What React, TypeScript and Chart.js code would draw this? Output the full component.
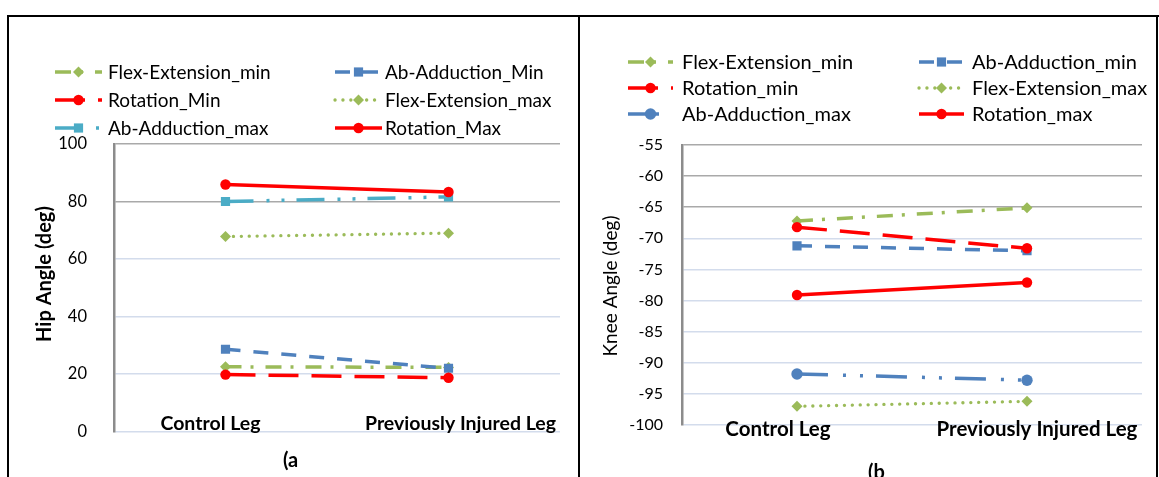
import React, { useEffect, useRef } from 'react';
import { Chart, registerables } from 'chart.js';
Chart.register(...registerables);

// ---------- data ----------
const categories = ['Control Leg', 'Previously Injured Leg'];

const hipSeriesNames = ['Flex-Extension_min', 'Ab-Adduction_Min', 'Rotation_Min', 'Flex-Extension_max', 'Ab-Adduction_max', 'Rotation_Max'];
const hipFlexMin = [22.5, 22.3];
const hipAbMin = [28.6, 22.0];
const hipRotMin = [19.8, 18.7];
const hipFlexMax = [67.8, 69.0];
const hipAbMax = [80.0, 81.6];
const hipRotMax = [85.9, 83.3];
const hipAxis = { min: 0, max: 100, step: 20 };

const kneeSeriesNames = ['Flex-Extension_min', 'Ab-Adduction_min', 'Rotation_min', 'Flex-Extension_max', 'Ab-Adduction_max', 'Rotation_max'];
const kneeFlexMin = [-67.2, -65.1];
const kneeAbMin = [-71.2, -72.0];
const kneeRotMin = [-68.2, -71.6];
const kneeFlexMax = [-97.0, -96.2];
const kneeAbMax = [-91.8, -92.8];
const kneeRotMax = [-79.1, -77.1];
const kneeAxis = { min: -100, max: -55, step: 5 };

// ---------- styles ----------
const GREEN = '#9BBB59';
const BLUE = '#4F81BD';
const RED = '#FF0000';
const TEAL = '#4BACC6';
const FONT = 'Lato, "Noto Sans", sans-serif';

type SeriesStyle = { color: string; dash: number[]; cap?: string; marker: string; r: number; width: number };

function seriesStyles(abMaxColor: string, abMaxMarker: string, abMaxDash: number[]): SeriesStyle[] {
  return [
    { color: GREEN, dash: [16, 9, 3, 12], marker: 'rectRot', r: 5.5, width: 3.5 },
    { color: BLUE, dash: [15, 13], marker: 'rect', r: 6.5, width: 3.5 },
    { color: RED, dash: [30, 13], marker: 'circle', r: 5.2, width: 3.5 },
    { color: GREEN, dash: [0.1, 7.8], cap: 'round', marker: 'rectRot', r: 5.5, width: 3.3 },
    { color: abMaxColor, dash: abMaxDash, marker: abMaxMarker, r: abMaxMarker === 'rect' ? 6.5 : 5.7, width: 3.5 },
    { color: RED, dash: [], marker: 'circle', r: 5.2, width: 3.5 },
  ];
}

function drawMarker(ctx: CanvasRenderingContext2D, style: string, x: number, y: number, r: number, color: string) {
  ctx.save();
  ctx.setLineDash([]);
  ctx.fillStyle = color;
  ctx.beginPath();
  if (style === 'circle') ctx.arc(x, y, r, 0, Math.PI * 2);
  else if (style === 'rect') {
    const s = r * Math.SQRT1_2;
    ctx.rect(x - s, y - s, 2 * s, 2 * s);
  } else {
    ctx.moveTo(x - r, y);
    ctx.lineTo(x, y - r);
    ctx.lineTo(x + r, y);
    ctx.lineTo(x, y + r);
    ctx.closePath();
  }
  ctx.fill();
  ctx.restore();
}

const overlayPlugin = {
  id: 'overlay',
  afterDraw(chart: any, _args: any, o: any) {
    const ctx: CanvasRenderingContext2D = chart.ctx;
    const xs = chart.scales.x;
    ctx.save();
    // legend
    ctx.font = `${o.legendSize}px ${FONT}`;
    ctx.textBaseline = 'middle';
    ctx.textAlign = 'left';
    chart.data.datasets.forEach((ds: any, i: number) => {
      const col = i % 2;
      const row = Math.floor(i / 2);
      const x0 = o.legendX[col];
      const y = o.legendY + row * o.legendDy;
      const w = o.sampleW;
      ctx.save();
      ctx.strokeStyle = ds.borderColor;
      ctx.lineWidth = ds.borderWidth;
      ctx.lineCap = ds.borderCapStyle || 'butt';
      ctx.setLineDash(ds.borderDash || []);
      ctx.beginPath();
      ctx.moveTo(x0, y);
      ctx.lineTo(x0 + w, y);
      ctx.stroke();
      ctx.restore();
      drawMarker(ctx, ds.pointStyle, x0 + w / 2, y, ds.pointRadius, ds.borderColor);
      ctx.fillStyle = '#000';
      ctx.fillText(ds.label, o.legendTextX[col], y + 1);
    });
    // category labels
    ctx.font = `bold ${o.catSize}px ${FONT}`;
    ctx.textAlign = 'center';
    chart.data.labels.forEach((lab: string, i: number) => {
      ctx.fillText(lab, xs.getPixelForValue(i) + o.catShift[i], o.catY);
    });
    // y title
    ctx.save();
    ctx.translate(o.titleX, o.titleY);
    ctx.rotate(-Math.PI / 2);
    ctx.font = `${o.titleBold ? 'bold ' : ''}${o.titleSize}px ${FONT}`;
    ctx.textAlign = 'center';
    ctx.fillText(o.title, 0, 0);
    ctx.restore();
    // panel caption
    ctx.font = `bold ${o.capSize}px ${FONT}`;
    ctx.textAlign = 'left';
    ctx.textBaseline = 'top';
    ctx.fillText(o.caption, o.capX, o.capY);
    ctx.restore();
  },
};

type PanelProps = {
  width: number;
  height: number;
  names: string[];
  values: number[][];
  styles: SeriesStyle[];
  axis: { min: number; max: number; step: number };
  grayFrom: number;
  padding: { top: number; right: number; bottom: number };
  axisW: number;
  tickPad: number;
  tickSize: number;
  overlay: any;
};

function Panel(p: PanelProps) {
  const ref = useRef<HTMLCanvasElement>(null);
  useEffect(() => {
    if (!ref.current) return;
    const n = p.values.length;
    const datasets = p.values.map((v, i) => {
      const s = p.styles[i];
      return {
        label: p.names[i],
        data: v,
        borderColor: s.color,
        backgroundColor: s.color,
        borderWidth: s.width,
        borderDash: s.dash,
        borderCapStyle: s.cap || 'butt',
        pointStyle: s.marker,
        pointRadius: s.r,
        pointBackgroundColor: s.color,
        pointBorderColor: s.color,
        pointBorderWidth: 0,
        tension: 0,
        order: n - i,
      };
    });
    const chart = new Chart(ref.current, {
      type: 'line',
      data: { labels: categories, datasets },
      options: {
        responsive: false,
        animation: false,
        layout: { padding: { left: 0, top: p.padding.top, right: p.padding.right, bottom: p.padding.bottom } },
        plugins: {
          legend: { display: false },
          tooltip: { enabled: false },
          overlay: p.overlay,
        } as any,
        scales: {
          x: { display: false, offset: true },
          y: {
            min: p.axis.min,
            max: p.axis.max,
            ticks: { stepSize: p.axis.step, padding: p.tickPad, color: '#000', font: { family: FONT, size: p.tickSize } },
            grid: {
              drawTicks: false,
              lineWidth: 1.5,
              color: (c: any) => (c.tick && c.tick.value >= p.grayFrom ? '#A9A9A9' : '#D3DCEC'),
            },
            border: { display: true, color: '#8C8C8C', width: 2.5 },
            afterFit: (s: any) => {
              s.width = p.axisW;
            },
          },
        },
      },
      plugins: [overlayPlugin],
    } as any);
    return () => chart.destroy();
  }, []);
  return <canvas ref={ref} width={p.width} height={p.height} style={{ display: 'block', width: p.width, height: p.height }} />;
}

const line = (l: number, t: number, w: number, h: number) => (
  <div style={{ position: 'absolute', left: l, top: t, width: w, height: h, background: '#000' }} />
);

export default function App() {
  const hipValues = [hipFlexMin, hipAbMin, hipRotMin, hipFlexMax, hipAbMax, hipRotMax];
  const kneeValues = [kneeFlexMin, kneeAbMin, kneeRotMin, kneeFlexMax, kneeAbMax, kneeRotMax];
  return (
    <div style={{ position: 'absolute', left: 0, top: 0, width: 1159, height: 477, overflow: 'hidden', background: '#fff' }}>
      <div style={{ position: 'absolute', left: 9, top: 17 }}>
        <Panel
          width={569}
          height={460}
          names={hipSeriesNames}
          values={hipValues}
          styles={seriesStyles(TEAL, 'rect', [28, 13, 3, 12, 3, 12])}
          axis={hipAxis}
          grayFrom={80}
          padding={{ top: 127, right: 18, bottom: 45.5 }}
          axisW={105}
          tickPad={27}
          tickSize={16.5}
          overlay={{
            legendSize: 19,
            legendX: [46, 326],
            legendTextX: [99, 376],
            legendY: 55,
            legendDy: 28,
            sampleW: 47,
            catSize: 19.5,
            catY: 407,
            catShift: [-15, 12],
            title: 'Hip Angle (deg)',
            titleBold: true,
            titleSize: 20,
            titleX: 36,
            titleY: 257,
            caption: '(a',
            capSize: 20,
            capX: 274,
            capY: 434,
          }}
        />
      </div>
      <div style={{ position: 'absolute', left: 580, top: 17 }}>
        <Panel
          width={576}
          height={460}
          names={kneeSeriesNames}
          values={kneeValues}
          styles={seriesStyles(BLUE, 'circle', [31, 15, 3, 14, 3, 13])}
          axis={kneeAxis}
          grayFrom={-65}
          padding={{ top: 128, right: 14, bottom: 52 }}
          axisW={102}
          tickPad={19}
          tickSize={16}
          overlay={{
            legendSize: 20,
            legendX: [48, 339],
            legendTextX: [102, 392],
            legendY: 45,
            legendDy: 26,
            sampleW: 45,
            catSize: 20.5,
            catY: 412,
            catShift: [-19, 10],
            title: 'Knee Angle (deg)',
            titleBold: false,
            titleSize: 19,
            titleX: 31,
            titleY: 269,
            caption: '(b',
            capSize: 20,
            capX: 288,
            capY: 446,
          }}
        />
      </div>
      {line(7, 15, 1152, 2)}
      {line(7, 15, 2, 470)}
      {line(578, 15, 2, 470)}
      {line(1156, 15, 2, 470)}
    </div>
  );
}
